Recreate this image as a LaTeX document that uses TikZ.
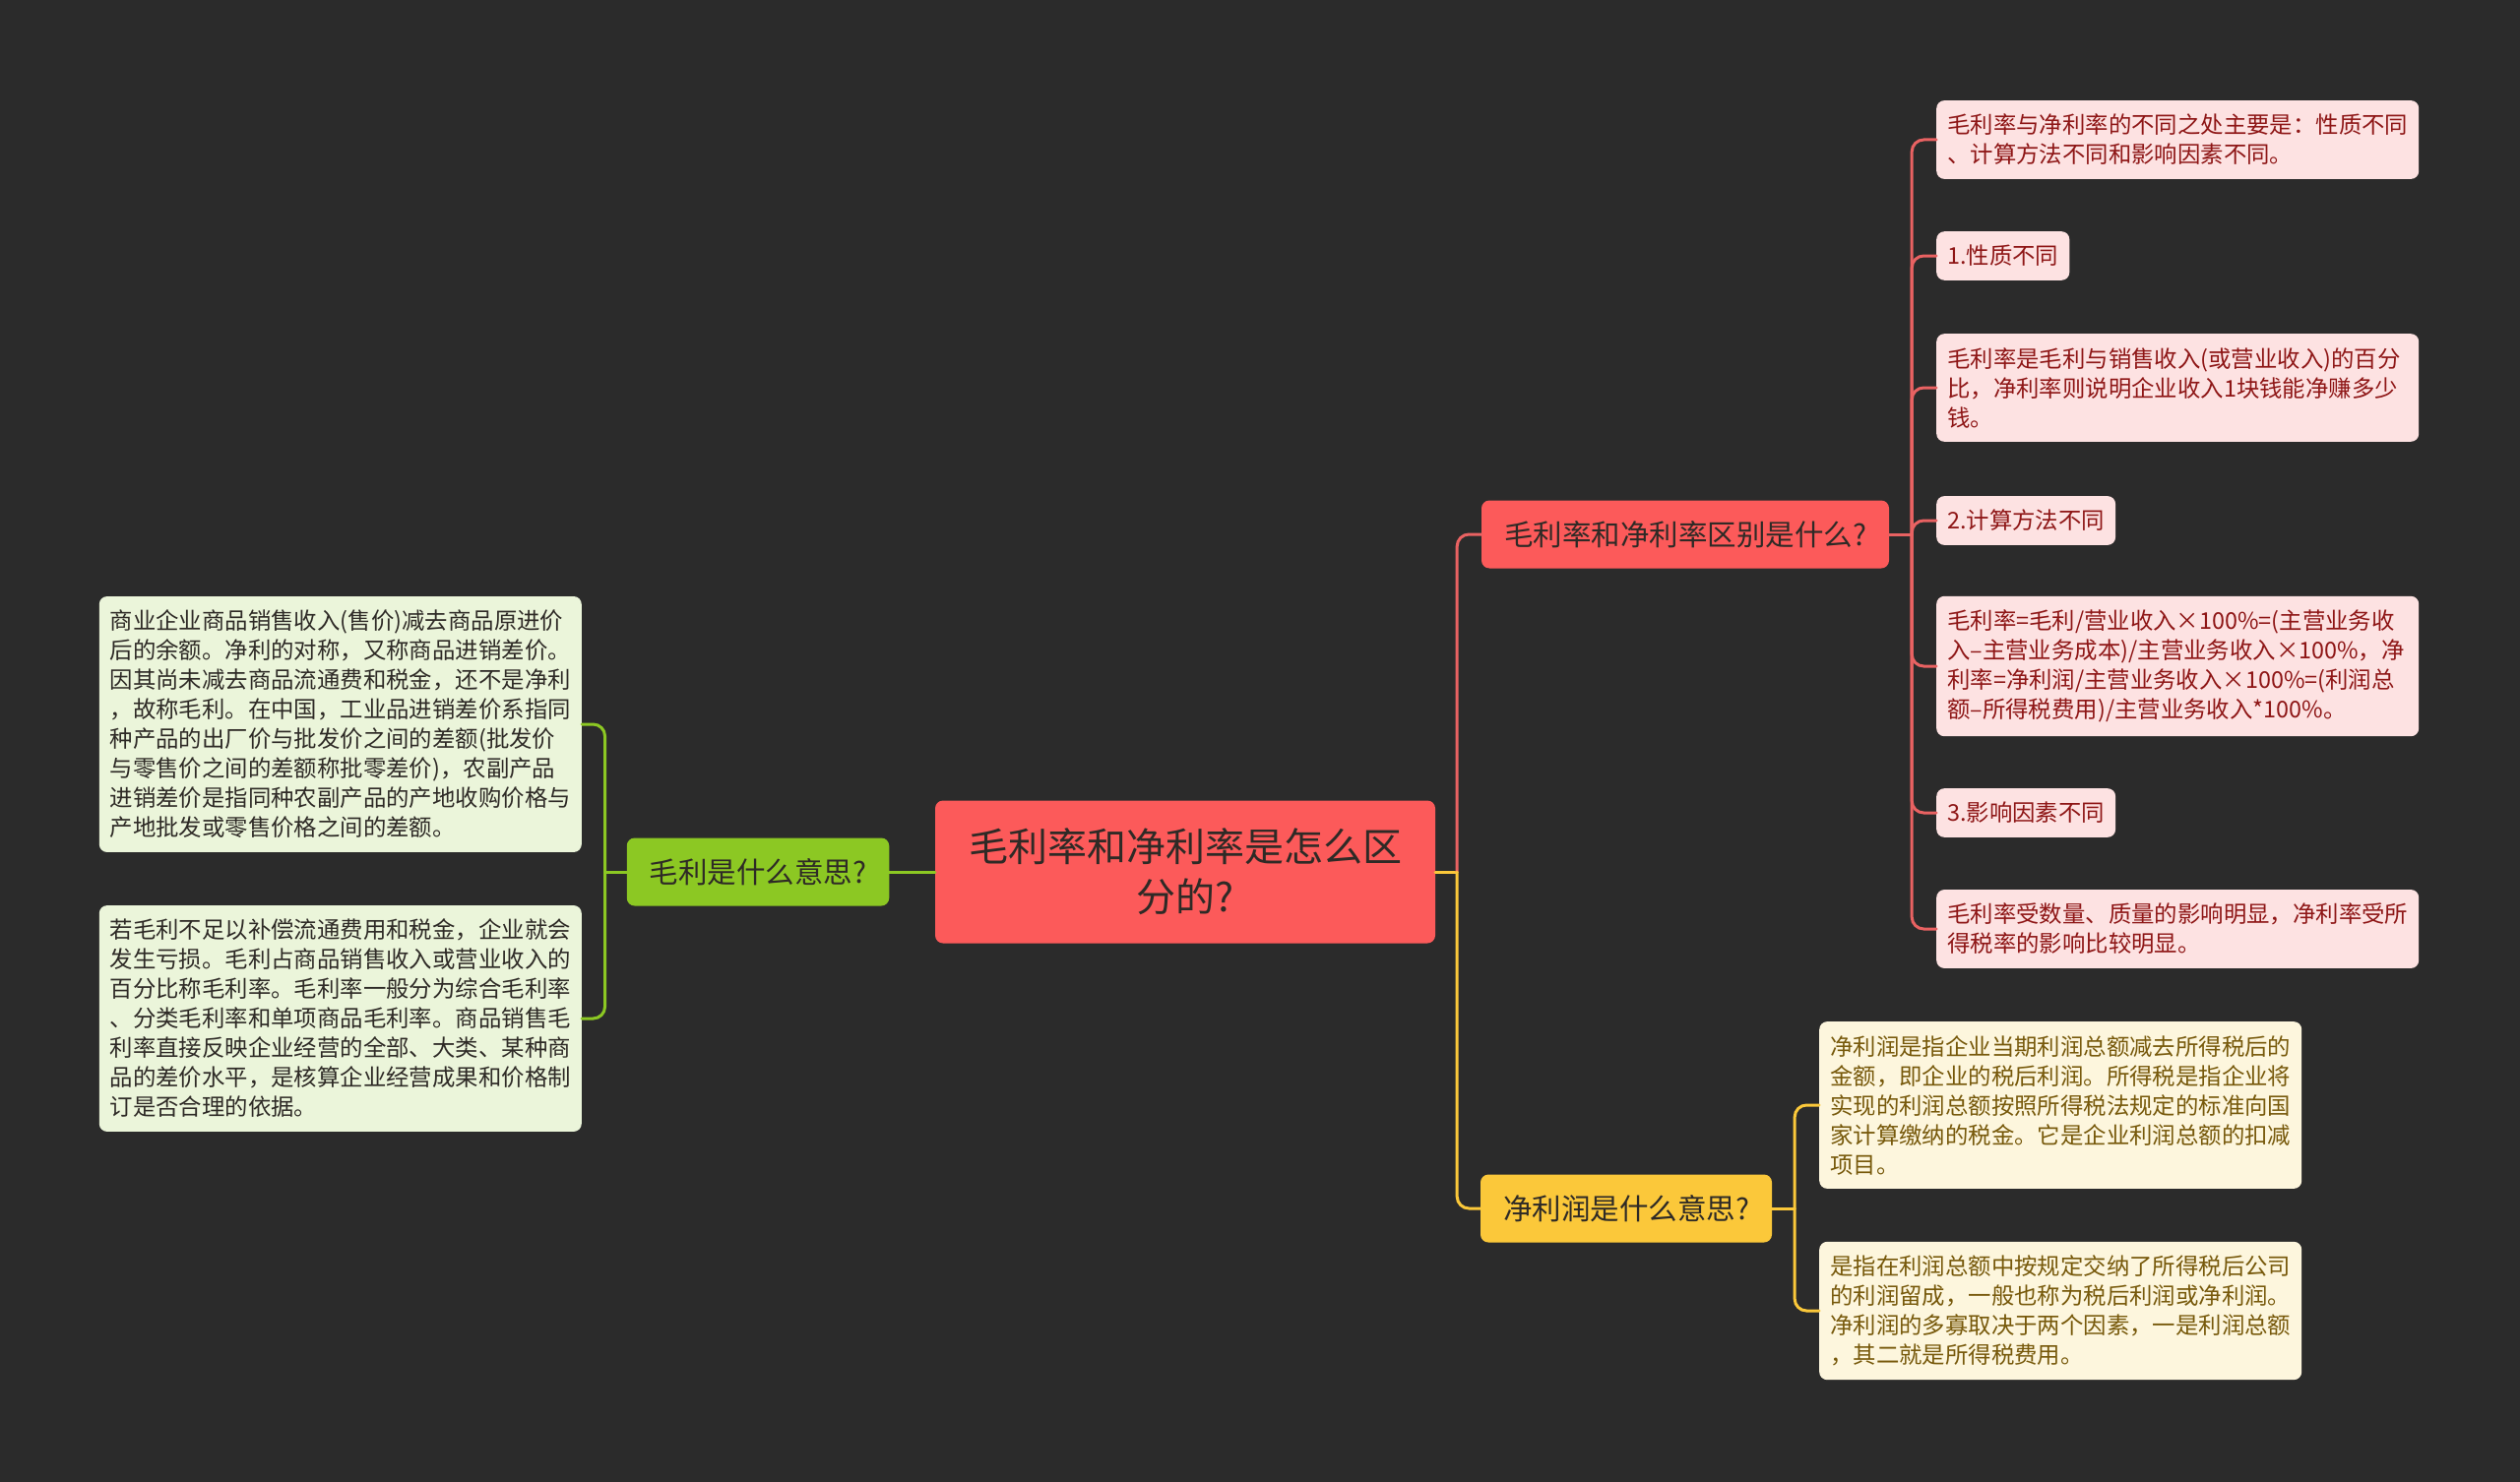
\documentclass[tikz,border=0pt]{standalone}
\usepackage{fontspec}
\setmainfont{Noto Sans CJK SC}
\usetikzlibrary{calc, positioning}
\definecolor{mapbg}{HTML}{2B2B2B}
\definecolor{mapcoral}{HTML}{FC5A5A}
\definecolor{mapredline}{HTML}{E96262}
\definecolor{mapgreen}{HTML}{8CC823}
\definecolor{mapyellow}{HTML}{FBC83A}
\definecolor{greenleaf}{HTML}{EBF5DA}
\definecolor{pinkleaf}{HTML}{FDE2E2}
\definecolor{creamleaf}{HTML}{FDF6DD}
\definecolor{pinktext}{HTML}{8E1616}
\definecolor{creamtext}{HTML}{77590B}
\definecolor{darktext}{HTML}{2E2A26}

\tikzset{
  rootbox/.style={fill=mapcoral, rounded corners=8bp, minimum width=508bp, minimum height=145bp,
    align=center, text=darktext, font=\fontsize{40bp}{51bp}\selectfont},
  topicbox/.style={fill=#1, rounded corners=8bp, minimum height=69bp, inner xsep=23bp,
    text=darktext, font=\fontsize{29.5bp}{36bp}\selectfont},
  leafbox/.style={rounded corners=8bp, inner xsep=11bp, inner ysep=14bp, align=left,
    font=\fontsize{23.4bp}{30bp}\selectfont},
  wideleaf/.style={leafbox, text width=468bp},
  link/.style={line width=3bp, draw=#1, line cap=round},
}

\begin{document}
\begin{tikzpicture}[x=1bp,y=-1bp]
  \fill[mapbg] (0,0) rectangle (2560,1506);
  \useasboundingbox (0,0) rectangle (2560,1506);

  % centre and first level
  \node[rootbox] (root) at (1204,886) {毛利率和净利率是怎么区\\分的?};
  \node[topicbox=mapgreen] (gross) at (770,886) {毛利是什么意思?};
  \node[topicbox=mapcoral] (diff) at (1712,543) {毛利率和净利率区别是什么?};
  \node[topicbox=mapyellow] (net) at (1652,1228) {净利润是什么意思?};

  % left leaves
  \node[wideleaf, fill=greenleaf, text=darktext, anchor=east] (ga) at (591,736)
    {商业企业商品销售收入(售价)减去商品原进价\\后的余额。净利的对称，又称商品进销差价。\\因其尚未减去商品流通费和税金，还不是净利\\，故称毛利。在中国，工业品进销差价系指同\\种产品的出厂价与批发价之间的差额(批发价\\与零售价之间的差额称批零差价)，农副产品\\进销差价是指同种农副产品的产地收购价格与\\产地批发或零售价格之间的差额。};
  \node[wideleaf, fill=greenleaf, text=darktext, anchor=east] (gb) at (591,1035)
    {若毛利不足以补偿流通费用和税金，企业就会\\发生亏损。毛利占商品销售收入或营业收入的\\百分比称毛利率。毛利率一般分为综合毛利率\\、分类毛利率和单项商品毛利率。商品销售毛\\利率直接反映企业经营的全部、大类、某种商\\品的差价水平，是核算企业经营成果和价格制\\订是否合理的依据。};

  % right leaves, red branch
  \node[wideleaf, fill=pinkleaf, text=pinktext, anchor=west] (p1) at (1967,142)
    {毛利率与净利率的不同之处主要是：性质不同\\、计算方法不同和影响因素不同。};
  \node[leafbox, fill=pinkleaf, text=pinktext, anchor=west] (p2) at (1967,260) {1.性质不同};
  \node[wideleaf, fill=pinkleaf, text=pinktext, anchor=west] (p3) at (1967,394)
    {毛利率是毛利与销售收入(或营业收入)的百分\\比，净利率则说明企业收入1块钱能净赚多少\\钱。};
  \node[leafbox, fill=pinkleaf, text=pinktext, anchor=west] (p4) at (1967,529) {2.计算方法不同};
  \node[wideleaf, fill=pinkleaf, text=pinktext, anchor=west] (p5) at (1967,677)
    {毛利率=毛利/营业收入×100\%=(主营业务收\\入–主营业务成本)/主营业务收入×100\%，净\\利率=净利润/主营业务收入×100\%=(利润总\\额–所得税费用)/主营业务收入*100\%。};
  \node[leafbox, fill=pinkleaf, text=pinktext, anchor=west] (p6) at (1967,826) {3.影响因素不同};
  \node[wideleaf, fill=pinkleaf, text=pinktext, anchor=west] (p7) at (1967,944)
    {毛利率受数量、质量的影响明显，净利率受所\\得税率的影响比较明显。};

  % right leaves, yellow branch
  \node[wideleaf, fill=creamleaf, text=creamtext, anchor=west] (y1) at (1848,1123)
    {净利润是指企业当期利润总额减去所得税后的\\金额，即企业的税后利润。所得税是指企业将\\实现的利润总额按照所得税法规定的标准向国\\家计算缴纳的税金。它是企业利润总额的扣减\\项目。};
  \node[wideleaf, fill=creamleaf, text=creamtext, anchor=west] (y2) at (1848,1332)
    {是指在利润总额中按规定交纳了所得税后公司\\的利润留成，一般也称为税后利润或净利润。\\净利润的多寡取决于两个因素，一是利润总额\\，其二就是所得税费用。};

  % junctions
  \coordinate (rj) at ($(root.east)+(22,0)$);
  \coordinate (gj) at ($(gross.west)+(-22,0)$);
  \coordinate (dj) at ($(diff.east)+(23,0)$);
  \coordinate (nj) at ($(net.east)+(23,0)$);

  % connectors
  \draw[link=mapgreen] (root.west) -- (gross.east);
  \draw[link=mapyellow] (root.east) -- (rj);
  \draw[link=mapredline, rounded corners=12bp] (rj) |- (diff.west);
  \draw[link=mapyellow, rounded corners=12bp] (rj) |- (net.west);
  \draw[link=mapgreen] (gross.west) -- (gj);
  \foreach \n in {ga,gb}
    \draw[link=mapgreen, rounded corners=12bp] (gj) |- (\n.east);
  \draw[link=mapredline] (diff.east) -- (dj);
  \foreach \n in {p1,p2,p3,p4,p5,p6,p7}
    \draw[link=mapredline, rounded corners=12bp] (dj) |- (\n.west);
  \draw[link=mapyellow] (net.east) -- (nj);
  \foreach \n in {y1,y2}
    \draw[link=mapyellow, rounded corners=12bp] (nj) |- (\n.west);
\end{tikzpicture}
\end{document}
